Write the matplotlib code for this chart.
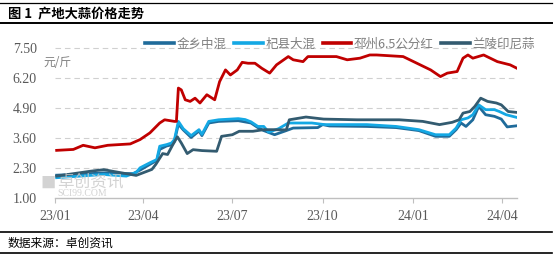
import matplotlib
matplotlib.use("Agg")
import matplotlib.pyplot as plt
import matplotlib.dates as mdates
import pandas as pd
from matplotlib.lines import Line2D

plt.rcParams['font.family'] = ['Noto Sans CJK SC', 'DejaVu Sans']

series_names = ["金乡中混", "杞县大混", "邳州6.5公分红", "兰陵印尼蒜"]
series_colors = ["#1F6B9A", "#14A8E4", "#C00000", "#335B70"]

jinxiang_dates = ["2023-01-03", "2023-01-25", "2023-02-20", "2023-03-10", "2023-03-22", "2023-03-29",
                  "2023-04-08", "2023-04-15", "2023-04-18", "2023-04-25", "2023-04-30", "2023-05-03",
                  "2023-05-07", "2023-05-12", "2023-05-20", "2023-05-28", "2023-05-31", "2023-06-07",
                  "2023-06-17", "2023-07-07", "2023-07-20", "2023-07-27", "2023-08-02", "2023-08-13",
                  "2023-08-23", "2023-09-01", "2023-09-26", "2023-10-01", "2023-10-08", "2023-11-15",
                  "2023-12-15", "2024-01-07", "2024-01-24", "2024-02-07", "2024-02-14", "2024-02-19",
                  "2024-02-24", "2024-03-02", "2024-03-08", "2024-03-15", "2024-03-24", "2024-03-31",
                  "2024-04-06", "2024-04-16"]
jinxiang_values = [1.98, 2.02, 2.08, 2.05, 2.05, 2.20,
                   2.45, 2.62, 3.10, 3.25, 3.30, 3.45,
                   4.20, 3.95, 3.62, 3.90, 3.70, 4.25,
                   4.32, 4.35, 4.25, 4.05, 3.92, 3.74,
                   3.89, 4.03, 4.05, 4.18, 4.12, 4.10,
                   4.05, 3.92, 3.67, 3.67, 3.96, 4.25,
                   4.10, 4.39, 4.97, 4.61, 4.54, 4.42,
                   4.08, 4.13]

qixian_dates = ["2023-01-03", "2023-01-20", "2023-02-20", "2023-03-15", "2023-03-25", "2023-03-29",
                "2023-04-08", "2023-04-15", "2023-04-18", "2023-04-25", "2023-04-30", "2023-05-03",
                "2023-05-07", "2023-05-12", "2023-05-20", "2023-05-28", "2023-05-31", "2023-06-07",
                "2023-06-17", "2023-07-07", "2023-07-14", "2023-07-20", "2023-07-27", "2023-08-02",
                "2023-08-07", "2023-08-17", "2023-08-27", "2023-09-20", "2023-10-03", "2023-11-15",
                "2023-12-15", "2024-01-07", "2024-01-24", "2024-02-07", "2024-02-14", "2024-02-19",
                "2024-02-26", "2024-03-02", "2024-03-08", "2024-03-15", "2024-03-24", "2024-03-29",
                "2024-04-05", "2024-04-16"]
qixian_values = [1.87, 1.92, 2.01, 1.94, 2.10, 2.30,
                 2.52, 2.66, 3.24, 3.31, 3.38, 3.53,
                 4.32, 4.00, 3.70, 3.96, 3.76, 4.32,
                 4.39, 4.44, 4.40, 4.30, 4.10, 4.10,
                 3.85, 4.00, 4.25, 4.25, 4.18, 4.18,
                 4.10, 3.96, 3.74, 3.74, 4.03, 4.39,
                 4.47, 4.61, 5.04, 4.83, 4.83, 4.75,
                 4.61, 4.49]

pizhou_dates = ["2023-01-03", "2023-01-20", "2023-01-30", "2023-02-11", "2023-02-24", "2023-03-19",
                "2023-03-29", "2023-04-08", "2023-04-18", "2023-04-23", "2023-05-03", "2023-05-05",
                "2023-05-07", "2023-05-10", "2023-05-14", "2023-05-19", "2023-05-24", "2023-05-29",
                "2023-06-05", "2023-06-13", "2023-06-18", "2023-06-24", "2023-06-29", "2023-07-06",
                "2023-07-11", "2023-07-17", "2023-07-24", "2023-07-31", "2023-08-08", "2023-08-15",
                "2023-08-27", "2023-09-01", "2023-09-11", "2023-09-16", "2023-10-15", "2023-10-26",
                "2023-11-08", "2023-11-18", "2023-11-25", "2023-12-22", "2024-01-05", "2024-01-19",
                "2024-01-29", "2024-02-05", "2024-02-15", "2024-02-21", "2024-02-26", "2024-03-02",
                "2024-03-13", "2024-03-27", "2024-04-09", "2024-04-16"]
pizhou_values = [3.06, 3.10, 3.28, 3.17, 3.28, 3.34,
                 3.53, 3.82, 4.25, 4.39, 4.32, 4.32,
                 5.77, 5.69, 5.26, 5.19, 5.33, 5.12,
                 5.48, 5.26, 6.05, 6.56, 6.34, 6.56,
                 6.89, 6.85, 6.85, 6.63, 6.42, 6.78,
                 7.14, 7.00, 6.92, 7.14, 7.14, 7.00,
                 7.07, 7.21, 7.21, 7.14, 6.85, 6.56,
                 6.27, 6.42, 6.49, 7.07, 7.21, 7.07,
                 7.21, 6.92, 6.78, 6.63]

lanling_dates = ["2023-01-03", "2023-02-06", "2023-02-20", "2023-03-01", "2023-03-25", "2023-04-10",
                 "2023-04-14", "2023-04-21", "2023-04-26", "2023-05-01", "2023-05-06", "2023-05-10",
                 "2023-05-16", "2023-05-22", "2023-05-31", "2023-06-15", "2023-06-20", "2023-07-01",
                 "2023-07-08", "2023-07-22", "2023-08-02", "2023-08-12", "2023-08-25", "2023-08-28",
                 "2023-09-14", "2023-10-02", "2023-11-05", "2023-12-18", "2024-01-11", "2024-01-28",
                 "2024-02-10", "2024-02-17", "2024-02-21", "2024-02-28", "2024-03-04", "2024-03-10",
                 "2024-03-17", "2024-03-26", "2024-03-31", "2024-04-07", "2024-04-16"]
lanling_values = [1.94, 2.15, 2.22, 2.15, 1.97, 2.23,
                  2.45, 2.92, 2.88, 3.28, 3.65, 3.38,
                  2.92, 3.09, 3.05, 3.02, 3.67, 3.74,
                  3.89, 3.89, 3.96, 3.96, 3.95, 4.39,
                  4.51, 4.42, 4.39, 4.39, 4.32, 4.18,
                  4.28, 4.39, 4.68, 4.75, 4.97, 5.33,
                  5.19, 5.12, 5.04, 4.75, 4.71]

y_ticks = [1.00, 2.30, 3.60, 4.90, 6.20, 7.50]
x_tick_dates = ["2023-01-01", "2023-04-01", "2023-07-01", "2023-10-01", "2024-01-01", "2024-04-01"]
x_tick_labels = ["23/01", "23/04", "23/07", "23/10", "24/01", "24/04"]

W, H = 554, 256
fig = plt.figure(figsize=(W / 100, H / 100), dpi=100)

def fx(px):
    return px / W

def fy(py):
    return 1 - py / H

# frame lines
for yy, lw in [(2.7, 0.9), (22.7, 1.4), (232.3, 1.2), (253.3, 1.2)]:
    fig.add_artist(Line2D([0.0, fx(552)], [fy(yy), fy(yy)], color="black", lw=lw))

fig.text(fx(8), fy(13.5), "图 1  产地大蒜价格走势", fontsize=9.5, fontweight="bold",
         va="center", ha="left", color="black")
fig.text(fx(8), fy(243), "数据来源：卓创资讯", fontsize=8.5, va="center", ha="left", color="black")

ax = fig.add_axes([fx(54.7), fy(197.7), fx(517 - 54.7), (197.7 - 48.3) / H])

all_data = [(jinxiang_dates, jinxiang_values), (qixian_dates, qixian_values),
            (pizhou_dates, pizhou_values), (lanling_dates, lanling_values)]
for (d, v), name, c in zip(all_data, series_names, series_colors):
    ax.plot(pd.to_datetime(d), v, color=c, lw=2.0, label=name, solid_joinstyle="round", zorder=3)

ax.set_ylim(1.0, 7.5)
ax.set_yticks(y_ticks)
ax.set_yticklabels([f"{t:.2f}" for t in y_ticks], family="Liberation Serif", fontsize=10, color="#595959")
ax.set_xlim(pd.Timestamp("2023-01-01"), pd.Timestamp("2024-04-16"))
ax.set_xticks(pd.to_datetime(x_tick_dates))
ax.set_xticklabels(x_tick_labels, family="Liberation Serif", fontsize=10, color="#595959")
ax.tick_params(axis="y", length=0, pad=13)
ax.tick_params(axis="x", length=3.5, width=0.8, color="#bfbfbf", pad=5)

for s in ["top", "right", "left"]:
    ax.spines[s].set_visible(False)
ax.spines["bottom"].set_color("#bfbfbf")
ax.spines["bottom"].set_linewidth(1.0)

for t in y_ticks[1:]:
    ax.axhline(t, color="#d0d0d0", lw=0.8, linestyle=(0, (5, 3.5)), zorder=1, clip_on=False)

leg = ax.legend(loc="center", ncol=4, frameon=False,
                fontsize=9, handlelength=2.3, handletextpad=0.2, columnspacing=0.6,
                borderaxespad=0)
leg.set_bbox_to_anchor((fx(340), fy(44)), transform=fig.transFigure)
for txt in leg.get_texts():
    txt.set_color("#7f7f7f")
for lh in leg.get_lines():
    lh.set_linewidth(2.6)

fig.text(fx(43), fy(63), "元/斤", fontsize=8.5, color="#7f7f7f", va="center", ha="left")

# watermark
fig.text(fx(40), fy(183), "■", fontsize=11, color="#c8c8c8", va="center", ha="left", alpha=0.8)
fig.text(fx(57), fy(182), "卓创资讯", fontsize=12, color="#c8c8c8", va="center", ha="left", alpha=0.8)
fig.text(fx(57), fy(194), "SCI99.COM", family="Liberation Serif", fontsize=7, color="#c8c8c8",
         va="center", ha="left", alpha=0.8)

fig.savefig("out.png", dpi=100)
